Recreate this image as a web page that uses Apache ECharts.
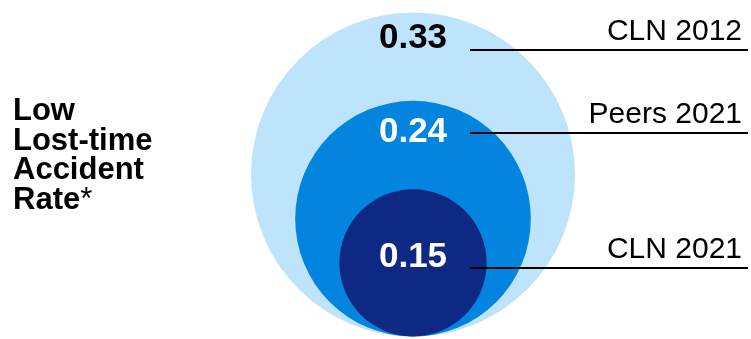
<!DOCTYPE html>
<html>
<head>
<meta charset="utf-8">
<script src="https://cdn.jsdelivr.net/npm/echarts@6/dist/echarts.min.js"></script>
<style>
  html, body { margin: 0; padding: 0; background: #fff; }
  #chart { width: 751px; height: 339px; }
</style>
</head>
<body>
<div id="chart"></div>
<script>
// 数据
const categories = ["CLN 2012", "Peers 2021", "CLN 2021"];
const rates = [0.33, 0.24, 0.15];
const rateLabels = ["0.33", "0.24", "0.15"];
const sideTitle = ["Low", "Lost-time", "Accident", "Rate{n|*}"];

// 样式
const fills = ["#bee4fb", "#0384de", "#0e2983"];
const valueColors = ["#000000", "#ffffff", "#ffffff"];
const valueY = [38, 132, 257];     // 数值文字中心
const leaderY = [50, 133, 268];    // 引线位置
const FONT = "'Liberation Sans', Arial, sans-serif";

let myChart = echarts.init(document.getElementById("chart"), null, { renderer: "canvas" });

const option = {
	animation: false,
	title: {
		text: sideTitle.join("\n"),
		left: 13,
		top: 97,
		padding: 0,
		textStyle: {
			fontFamily: FONT,
			fontSize: 31,
			fontWeight: "bold",
			color: "#000",
			lineHeight: 29.5,
			rich: {
				n: { fontFamily: FONT, fontSize: 31, fontWeight: "normal", color: "#000", lineHeight: 29.5 },
			},
		},
	},
	// 圆的半径与数值成正比，底部对齐
	grid: {
		left: 251,
		width: 324,
		top: 12.5,
		height: 324,
	},
	xAxis: { type: "value", min: -0.33, max: 0.33, show: false },
	yAxis: { type: "value", min: 0, max: 0.66, show: false },
	series: [
		{
			type: "custom",
			coordinateSystem: "cartesian2d",
			data: rates.map((v, i) => [0, v, i]),
			renderItem: function (params, api) {
				const v = api.value(1);
				const i = params.dataIndex;
				const c = api.coord([0, v]);
				const r = api.size([v, v])[0];
				return {
					type: "group",
					children: [
						{
							type: "circle",
							shape: { cx: c[0], cy: c[1], r: r },
							style: { fill: fills[i] },
							z2: i,
						},
						{
							type: "text",
							x: c[0],
							y: valueY[i],
							style: {
								text: rateLabels[i],
								fill: valueColors[i],
								font: "bold 35px " + FONT,
								align: "center",
								verticalAlign: "middle",
							},
							z2: 20,
						},
						{
							type: "line",
							shape: { x1: 470, y1: leaderY[i], x2: 748, y2: leaderY[i] },
							style: { stroke: "#000", lineWidth: 2 },
							z2: 20,
						},
						{
							type: "text",
							x: 742,
							y: leaderY[i] - 3,
							style: {
								text: categories[i],
								fill: "#000",
								font: "30px " + FONT,
								align: "right",
								verticalAlign: "bottom",
							},
							z2: 20,
						},
					],
				};
			},
		},
	],
};

myChart.setOption(option);
</script>
</body>
</html>
